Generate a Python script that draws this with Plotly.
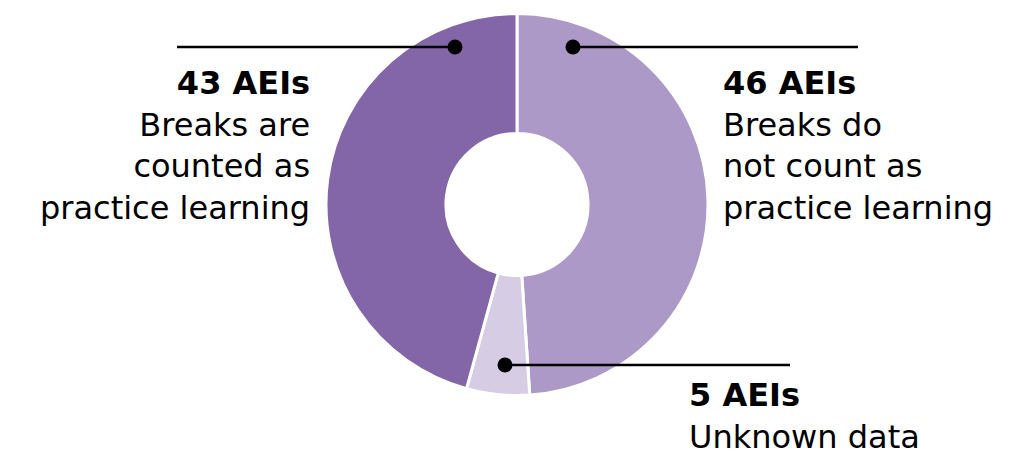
import plotly.graph_objects as go

labels = ["Breaks do not count as practice learning", "Unknown data", "Breaks are counted as practice learning"]
values = [46, 5, 43]
colors = ["#AC99C7", "#D6CCE3", "#8366A8"]
label_titles = ["46 AEIs", "5 AEIs", "43 AEIs"]
label_texts = ["Breaks do<br>not count as<br>practice learning", "Unknown data", "Breaks are<br>counted as<br>practice learning"]

W, H = 1027, 456
cx, cy, R = 517, 204.5, 191
hole = 0.372

fig = go.Figure()
fig.add_trace(go.Pie(
    labels=labels, values=values, sort=False, direction="clockwise", rotation=0,
    hole=hole, marker=dict(colors=colors, line=dict(color="white", width=3)),
    textinfo="none", hoverinfo="label+value", showlegend=False,
    domain=dict(x=[(cx - R) / W, (cx + R) / W], y=[(H - cy - R) / H, (H - cy + R) / H]),
))

# leader lines: dot position (pixel) and line end x
dots = [(573, 47, 858), (505, 365, 790), (455, 47, 177)]
for (dx, dy, ex) in dots:
    fig.add_shape(type="line", x0=dx, x1=ex, y0=dy, y1=dy, xref="x", yref="y",
                  line=dict(color="black", width=2.5), layer="above")
    fig.add_shape(type="circle", x0=dx - 7.5, x1=dx + 7.5, y0=dy - 7.5, y1=dy + 7.5,
                  xref="x", yref="y", fillcolor="black", line=dict(width=0), layer="above")

font = "DejaVu Sans"
fs = 32
blocks = [(721, 62, "left"), (687, 374, "left"), (312, 62, "right")]
for (x, y, anc), t, s in zip(blocks, label_titles, label_texts):
    fig.add_annotation(x=x, y=y, xref="x", yref="y", xanchor=anc, yanchor="top",
                       text=f"<b>{t}</b><br>{s}", showarrow=False, align=anc,
                       font=dict(family=font, size=fs, color="black"))

fig.update_layout(
    width=W, height=H, margin=dict(l=0, r=0, t=0, b=0),
    paper_bgcolor="white", plot_bgcolor="rgba(0,0,0,0)",
    xaxis=dict(range=[0, W], visible=False, domain=[0, 1], fixedrange=True),
    yaxis=dict(range=[H, 0], visible=False, domain=[0, 1], fixedrange=True),
)
fig.write_html("out.html", config={"displayModeBar": False},
               post_script="document.body.style.margin='0';document.body.style.overflow='hidden';")
